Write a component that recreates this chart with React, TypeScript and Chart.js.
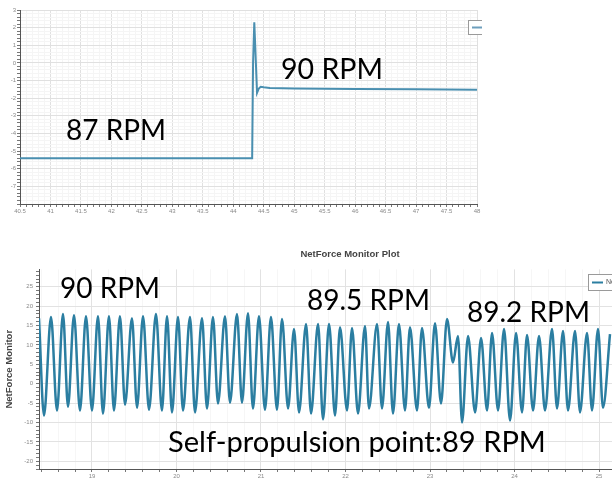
import React, { useEffect, useRef } from 'react';
import { Chart, registerables } from 'chart.js';

Chart.register(...registerables);

// ---------- Top chart data (87 -> 90 RPM step) ----------
const topTime = [40.5, 44.31, 44.325, 44.345, 44.36, 44.39, 44.42, 44.45, 44.5, 44.6, 45, 46, 47, 48];
const topForce = [-5.4, -5.4, 0, 2.3, 1.0, -1.7, -1.45, -1.35, -1.38, -1.42, -1.45, -1.48, -1.5, -1.52];
const topXLabels = [40.5, 41, 41.5, 42, 42.5, 43, 43.5, 44, 44.5, 45, 45.5, 46, 46.5, 47, 47.5, 48];
const topYLabels = [3, 2, 1, 0, -1, -2, -3, -4, -5, -6, -7];

// ---------- Bottom chart data (NetForce Monitor) ----------
const bottomTime = [
  18.373, 18.432, 18.515, 18.586, 18.657, 18.716, 18.787, 18.858, 18.929, 19.0,
  19.071, 19.13, 19.201, 19.26, 19.331, 19.391, 19.473, 19.533, 19.604, 19.675,
  19.757, 19.828, 19.888, 19.947, 20.018, 20.077, 20.16, 20.219, 20.302, 20.361,
  20.432, 20.491, 20.574, 20.633, 20.716, 20.775, 20.846, 20.905, 20.976, 21.047,
  21.118, 21.189, 21.249, 21.32, 21.391, 21.45, 21.533, 21.592, 21.675, 21.734,
  21.805, 21.876, 21.935, 22.018, 22.077, 22.148, 22.231, 22.278, 22.373, 22.432,
  22.503, 22.562, 22.633, 22.704, 22.763, 22.846, 22.905, 22.988, 23.059, 23.13,
  23.201, 23.272, 23.331, 23.379, 23.45, 23.533, 23.604, 23.675, 23.734, 23.805,
  23.876, 23.947, 24.018, 24.089, 24.148, 24.219, 24.29, 24.361, 24.444, 24.503,
  24.574, 24.633, 24.716, 24.775, 24.858, 24.917, 24.988, 25.047, 25.13,
];
const bottomForce = [
  16.9, -8.2, 17.2, -6.9, 18.0, -5.9, 17.7, -6.9, 17.4, -6.9,
  17.4, -7.7, 17.4, -6.9, 17.4, -5.4, 16.9, -6.2, 17.4, -6.7,
  18.0, -6.9, 17.4, -7.4, 17.2, -6.9, 17.2, -7.4, 16.9, -6.4,
  17.2, -5.1, 17.4, -4.9, 18.0, -4.9, 18.2, -6.4, 17.4, -6.7,
  17.2, -6.7, 16.7, -6.4, 14.1, -7.4, 15.4, -7.7, 15.4, -9.2,
  15.4, -8.2, 14.6, -6.9, 14.4, -7.7, 14.9, -6.4, 15.4, -6.4,
  15.9, -7.7, 15.4, -6.9, 14.6, -6.9, 14.4, -6.2, 15.6, -5.1,
  16.7, 5.5, 12.3, -10.0, 12.3, -7.4, 11.8, -6.9, 13.1, -6.9,
  14.1, -9.5, 13.1, -7.4, 12.6, -6.9, 12.3, -6.9, 14.1, -6.4,
  13.6, -6.9, 13.6, -7.4, 13.1, -6.9, 14.1, -6.2, 12.8,
];
const bottomXLabels = [19, 20, 21, 22, 23, 24, 25, 26];
const bottomYLabels = [25, 20, 15, 10, 5, 0, -5, -10, -15, -20];

// ---------- Text annotations ----------
const NOTE_FONT = 'Lato, "Open Sans", sans-serif';
const topNotes = [
  { text: '87 RPM', x: 66, y: 140, w: 100 },
  { text: '90 RPM', x: 281, y: 79, w: 102 },
];
const bottomNotes = [
  { text: '90 RPM', x: 60, y: 58, w: 100 },
  { text: '89.5 RPM', x: 307, y: 70, w: 123 },
  { text: '89.2 RPM', x: 467, y: 82, w: 123 },
  { text: 'Self-propulsion point:89 RPM', x: 168, y: 212, w: 378 },
];

const near = (v: number, list: number[]) => list.some((l) => Math.abs(l - v) < 1e-6);
const stepTicks = (min: number, max: number, step: number) => {
  const out: { value: number }[] = [];
  const n = Math.round((max - min) / step);
  for (let i = 0; i <= n; i++) out.push({ value: Math.round((min + i * step) * 1000) / 1000 });
  return out;
};

const notesPlugin = (id: string, notes: { text: string; x: number; y: number; w: number }[]) => ({
  id,
  afterDraw(chart: any) {
    const ctx = chart.ctx;
    ctx.save();
    ctx.fillStyle = '#000';
    ctx.textBaseline = 'alphabetic';
    ctx.textAlign = 'left';
    notes.forEach((n) => {
      ctx.font = `100px ${NOTE_FONT}`;
      const m = ctx.measureText(n.text).width;
      const size = (100 * n.w) / m;
      ctx.font = `${size}px ${NOTE_FONT}`;
      ctx.fillText(n.text, n.x, n.y);
    });
    ctx.restore();
  },
});

const legendBoxPlugin = (id: string, box: { x: number; y: number; w: number; h: number }, color: string, label: string) => ({
  id,
  afterDraw(chart: any) {
    const ctx = chart.ctx;
    ctx.save();
    ctx.fillStyle = '#fff';
    ctx.fillRect(box.x, box.y, box.w, box.h);
    ctx.strokeStyle = '#9a9a9a';
    ctx.lineWidth = 1;
    ctx.strokeRect(box.x + 0.5, box.y + 0.5, box.w, box.h);
    ctx.strokeStyle = color;
    ctx.lineWidth = 2;
    ctx.beginPath();
    ctx.moveTo(box.x + 4, box.y + box.h / 2 + 0.5);
    ctx.lineTo(box.x + 15, box.y + box.h / 2 + 0.5);
    ctx.stroke();
    if (label) {
      ctx.fillStyle = '#555';
      ctx.font = '7px "Liberation Sans", Arial, sans-serif';
      ctx.textBaseline = 'middle';
      ctx.fillText(label, box.x + 18, box.y + box.h / 2 + 0.5);
    }
    ctx.restore();
  },
});

const tickFont = { family: '"Liberation Sans", Arial, sans-serif', size: 6 };

function TopChart() {
  const ref = useRef<HTMLCanvasElement>(null);
  useEffect(() => {
    if (!ref.current) return;
    const chart = new Chart(ref.current, {
      type: 'line',
      data: {
        datasets: [
          {
            label: 'NetForce',
            data: topTime.map((t, i) => ({ x: t, y: topForce[i] })),
            borderColor: '#4a8fb0',
            borderWidth: 2,
            pointRadius: 0,
            tension: 0,
            fill: false,
          },
        ],
      },
      options: {
        animation: false,
        responsive: false,
        layout: { padding: { top: 10, right: 5, left: 0, bottom: 0 } },
        plugins: { legend: { display: false }, tooltip: { enabled: false }, title: { display: false } },
        scales: {
          x: {
            type: 'linear',
            min: 40.5,
            max: 48,
            afterBuildTicks: (s: any) => { s.ticks = stepTicks(40.5, 48, 0.1); },
            afterFit: (s: any) => { s.height = 14; },
            ticks: {
              autoSkip: false,
              maxRotation: 0,
              padding: 1,
              color: '#8a8a8a',
              font: tickFont,
              callback: (v: any) => (near(Number(v), topXLabels) ? String(v) : ''),
            },
            grid: {
              color: (c: any) => (c.tick && near(c.tick.value, topXLabels) ? '#e0e0e0' : '#f5f5f5'),
              tickColor: '#777',
              tickLength: 3,
            },
            border: { color: '#555', width: 1 },
          },
          y: {
            type: 'linear',
            min: -8,
            max: 3,
            afterBuildTicks: (s: any) => { s.ticks = stepTicks(-8, 3, 0.2); },
            afterFit: (s: any) => { s.width = 20; },
            ticks: {
              autoSkip: false,
              padding: 1,
              color: '#8a8a8a',
              font: tickFont,
              callback: (v: any) => (near(Number(v), topYLabels) ? String(v) : ''),
            },
            grid: {
              color: (c: any) => (c.tick && near(c.tick.value, topYLabels) ? '#e0e0e0' : '#f5f5f5'),
              tickColor: '#777',
              tickLength: 3,
            },
            border: { color: '#555', width: 1 },
          },
        },
      },
      plugins: [
        legendBoxPlugin('topLegend', { x: 468, y: 20, w: 24, h: 14 }, '#6d9fbd', ''),
        notesPlugin('topNotes', topNotes),
      ],
    } as any);
    return () => chart.destroy();
  }, []);
  return <canvas ref={ref} width={482} height={218} style={{ width: 482, height: 218, display: 'block' }} />;
}

function BottomChart() {
  const ref = useRef<HTMLCanvasElement>(null);
  useEffect(() => {
    if (!ref.current) return;
    const chart = new Chart(ref.current, {
      type: 'line',
      data: {
        datasets: [
          {
            label: 'NetForce Monitor',
            data: bottomTime.map((t, i) => ({ x: t, y: bottomForce[i] })),
            borderColor: '#2b7ea1',
            borderWidth: 2.5,
            pointRadius: 0,
            cubicInterpolationMode: 'monotone',
            fill: false,
          },
        ],
      },
      options: {
        animation: false,
        responsive: false,
        layout: { padding: { top: 0, right: 14, left: 0, bottom: 0 } },
        plugins: {
          legend: { display: false },
          tooltip: { enabled: false },
          title: {
            display: true,
            text: 'NetForce Monitor Plot',
            color: '#444',
            font: { family: '"Liberation Sans", Arial, sans-serif', size: 9.5, weight: 'bold' },
            padding: { top: 9, bottom: 9 },
          },
        },
        scales: {
          x: {
            type: 'linear',
            min: 18.373,
            max: 26.195,
            afterBuildTicks: (s: any) => { s.ticks = stepTicks(18.4, 26.2, 0.2); },
            afterFit: (s: any) => { s.height = 13; },
            ticks: {
              autoSkip: false,
              maxRotation: 0,
              padding: 1,
              color: '#8a8a8a',
              font: tickFont,
              callback: (v: any) => (near(Number(v), bottomXLabels) ? String(v) : ''),
            },
            grid: {
              color: (c: any) => (c.tick && near(c.tick.value, bottomXLabels) ? '#e2e2e2' : '#f6f6f6'),
              tickColor: '#777',
              tickLength: 3,
            },
            border: { color: '#555', width: 1 },
          },
          y: {
            type: 'linear',
            min: -22,
            max: 29.5,
            afterBuildTicks: (s: any) => { s.ticks = stepTicks(-22, 29, 1); },
            afterFit: (s: any) => { s.width = 39; },
            title: {
              display: true,
              text: 'NetForce Monitor',
              color: '#444',
              font: { family: '"Liberation Sans", Arial, sans-serif', size: 9.5, weight: 'bold' },
              padding: { top: 4, bottom: 0 },
            },
            ticks: {
              autoSkip: false,
              padding: 3,
              color: '#8a8a8a',
              font: tickFont,
              callback: (v: any) => (near(Number(v), bottomYLabels) ? String(v) : ''),
            },
            grid: {
              color: (c: any) => (c.tick && near(c.tick.value, bottomYLabels) ? '#e2e2e2' : 'rgba(0,0,0,0)'),
              tickColor: '#777',
              tickLength: 3,
            },
            border: { color: '#555', width: 1 },
          },
        },
      },
      plugins: [
        legendBoxPlugin('bottomLegend', { x: 588, y: 34, w: 80, h: 16 }, '#2b7ea1', 'NetForce Monitor'),
        notesPlugin('bottomNotes', bottomNotes),
      ],
    } as any);
    return () => chart.destroy();
  }, []);
  return <canvas ref={ref} width={714} height={242} style={{ width: 714, height: 242, display: 'block' }} />;
}

export default function App() {
  return (
    <div style={{ position: 'absolute', left: 0, top: 0, width: 612, height: 482, background: '#fff', overflow: 'hidden' }}>
      <div style={{ position: 'absolute', left: 0, top: 0, width: 482, height: 218 }}>
        <TopChart />
      </div>
      <div style={{ position: 'absolute', left: 0, top: 240, width: 612, height: 242, overflow: 'hidden' }}>
        <BottomChart />
      </div>
    </div>
  );
}
